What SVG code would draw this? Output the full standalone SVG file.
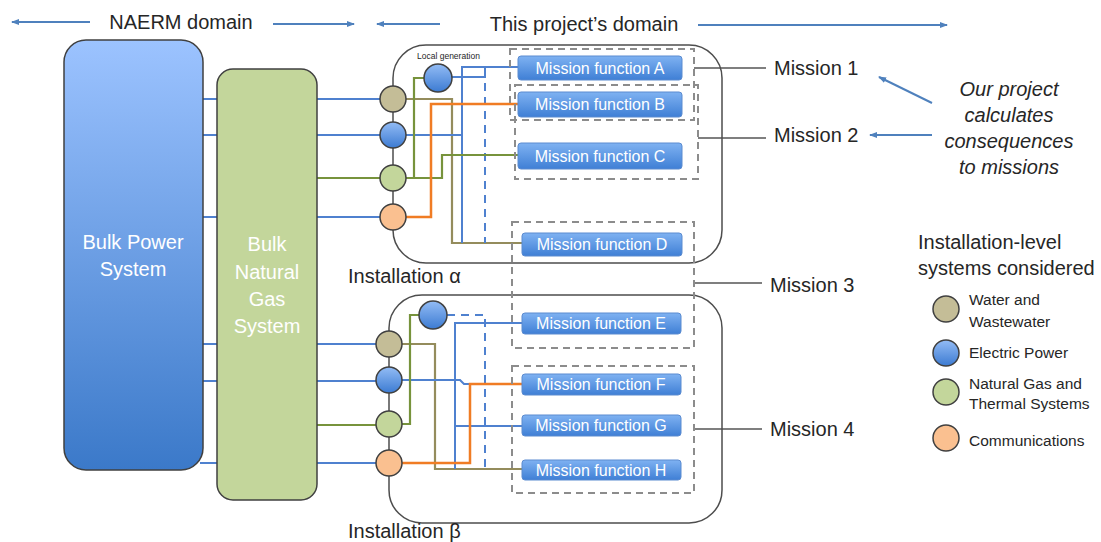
<svg xmlns="http://www.w3.org/2000/svg" width="1101" height="542" viewBox="0 0 1101 542">
<defs>
<linearGradient id="gPower" x1="0" y1="0" x2="0" y2="1"><stop offset="0" stop-color="#9cc3ff"/><stop offset="1" stop-color="#3b79c9"/></linearGradient>
<linearGradient id="gBlue" x1="0" y1="0" x2="0" y2="1"><stop offset="0" stop-color="#93bcf5"/><stop offset="1" stop-color="#3c7bd2"/></linearGradient>
<linearGradient id="gMf" x1="0" y1="0" x2="0" y2="1"><stop offset="0" stop-color="#7fb2f2"/><stop offset="1" stop-color="#3f7fd5"/></linearGradient>
<marker id="arr" markerWidth="8" markerHeight="8" refX="7" refY="4" orient="auto" markerUnits="userSpaceOnUse"><path d="M0,1 L8,4 L0,7 Z" fill="#4f81bd"/></marker>
</defs>
<style>
text{font-family:"Liberation Sans",Arial,sans-serif;fill:#262626}
.big{font-size:20px}
.wt{fill:#ffffff;font-size:20px}
.mf{fill:#ffffff;font-size:16px}
.leg{font-size:15.5px}
.ar{stroke:#4f81bd;stroke-width:2;fill:none;marker-end:url(#arr)}
.bl{stroke:#4f81cf;stroke-width:2;fill:none}
.gr{stroke:#77933c;stroke-width:2.2;fill:none}
.or{stroke:#f07c24;stroke-width:2.5;fill:none}
.tn{stroke:#948c5c;stroke-width:2.2;fill:none}
.dsh{stroke:#4f81cf;stroke-width:2;fill:none;stroke-dasharray:8 6}
.inst{fill:none;stroke:#4d4d4d;stroke-width:1.5}
.db{fill:none;stroke:#8c8c8c;stroke-width:2;stroke-dasharray:7 5}
.ml{stroke:#7f7f7f;stroke-width:2;fill:none}
.mfr{fill:url(#gMf);stroke:#5b8bd0;stroke-width:1}
.c{stroke:#404040;stroke-width:1.5}
.cT{fill:#c4bd97}.cB{fill:url(#gBlue)}.cG{fill:#c3d69b}.cO{fill:#fac090}
</style>

<g id="domain-arrows">
<path class="ar" d="M90 22 H12"/>
<path class="ar" d="M273 24 H354"/>
<path class="ar" d="M440 24 H377"/>
<path class="ar" d="M698 25 H947"/>
<text class="big" x="181" y="29" text-anchor="middle">NAERM domain</text>
<text class="big" x="584" y="31" text-anchor="middle" font-size="20.5">This project’s domain</text>
</g>

<g id="connectors">
<path class="bl" d="M200 99 H380"/>
<path class="bl" d="M200 135 H380"/>
<path class="gr" d="M317 178 H380"/>
<path class="bl" d="M200 217 H380"/>
<path class="bl" d="M200 344 H376"/>
<path class="bl" d="M200 381 H376"/>
<path class="gr" d="M317 425 H376"/>
<path class="bl" d="M200 463 H376"/>
<path class="tn" d="M406 99 H452 V243 H522"/>
<path class="bl" d="M406 135 H462"/>
<path class="bl" d="M462 243 V67 H518"/>
<path class="bl" d="M452 77 H485 V67"/>
<path class="dsh" d="M485 83 V243"/>
<path class="gr" d="M406 178 H442 V155 H518"/>
<path class="gr" d="M406 178 H414 V78 H424"/>
<path class="or" d="M406 217 H431 V104 H518"/>
<path class="tn" d="M402 344 H435 V469 H522"/>
<path class="bl" d="M402 380 H460 L464 384 H470"/>
<path class="bl" d="M455 469 V323 H522"/>
<path class="bl" d="M455 426 H522"/>
<path class="dsh" d="M447 315 H485 V470"/>
<path class="gr" d="M402 424 H410 V315 H419"/>
<path class="or" d="M402 463 H470 V384 H522"/>
<path class="ml" d="M694 68 H766"/>
<path class="ml" d="M698 138 H766"/>
<path class="ml" d="M694 283 H762"/>
<path class="ml" d="M694 429 H762"/>
<path class="ar" d="M932 103 L879 77"/>
<path class="ar" d="M932 135 H870"/>
</g>

<g id="bulk-power">
<rect x="64" y="40" width="139" height="430" rx="22" fill="url(#gPower)" stroke="#404040" stroke-width="1.5"/>
<text class="wt" x="133" y="249" text-anchor="middle">Bulk Power</text>
<text class="wt" x="133" y="276" text-anchor="middle">System</text>
</g>

<g id="bulk-gas">
<rect x="217" y="69" width="100" height="431" rx="16" fill="#c3d69b" stroke="#404040" stroke-width="1.5"/>
<text class="wt" x="267" y="251" text-anchor="middle">Bulk</text>
<text class="wt" x="267" y="279" text-anchor="middle">Natural</text>
<text class="wt" x="267" y="306" text-anchor="middle">Gas</text>
<text class="wt" x="267" y="333" text-anchor="middle">System</text>
</g>

<g id="installation-alpha">
<rect class="inst" x="393" y="45" width="329" height="218" rx="33"/>
<text class="big" x="348" y="283">Installation α</text>
<circle class="c cT" cx="393" cy="99" r="13"/>
<circle class="c cB" cx="393" cy="135" r="13"/>
<circle class="c cG" cx="393" cy="178" r="13"/>
<circle class="c cO" cx="393" cy="217" r="13"/>
<circle class="c cB" cx="438" cy="78" r="14" stroke-width="1"/>
<text x="417" y="59" font-size="8.5" fill="#404040">Local generation</text>
</g>

<g id="installation-beta">
<rect class="inst" x="389" y="295" width="333" height="228" rx="33"/>
<text class="big" x="348" y="538">Installation β</text>
<circle class="c cT" cx="389" cy="344" r="13"/>
<circle class="c cB" cx="389" cy="380" r="13"/>
<circle class="c cG" cx="389" cy="424" r="13"/>
<circle class="c cO" cx="389" cy="463" r="13"/>
<circle class="c cB" cx="433" cy="315" r="14" stroke-width="1"/>
</g>

<g id="mission-functions">
<rect class="mfr" x="518" y="56" width="164" height="24" rx="3"/><text class="mf" x="600" y="74" text-anchor="middle">Mission function A</text>
<rect class="mfr" x="518" y="92" width="164" height="25" rx="3"/><text class="mf" x="600" y="110" text-anchor="middle">Mission function B</text>
<rect class="mfr" x="518" y="143" width="164" height="26" rx="3"/><text class="mf" x="600" y="162" text-anchor="middle">Mission function C</text>
<rect class="mfr" x="522" y="233" width="160" height="23" rx="3"/><text class="mf" x="602" y="250" text-anchor="middle">Mission function D</text>
<rect class="mfr" x="522" y="313" width="159" height="21" rx="3"/><text class="mf" x="601" y="329" text-anchor="middle">Mission function E</text>
<rect class="mfr" x="522" y="374" width="159" height="21" rx="3"/><text class="mf" x="601" y="390" text-anchor="middle">Mission function F</text>
<rect class="mfr" x="522" y="415" width="159" height="21" rx="3"/><text class="mf" x="601" y="431" text-anchor="middle">Mission function G</text>
<rect class="mfr" x="522" y="460" width="159" height="20" rx="3"/><text class="mf" x="601" y="476" text-anchor="middle">Mission function H</text>
</g>

<g id="missions">
<rect class="db" x="510" y="49" width="184" height="71"/>
<rect class="db" x="515" y="85" width="183" height="94"/>
<rect class="db" x="512" y="222" width="182" height="126"/>
<rect class="db" x="512" y="366" width="182" height="127"/>
<text class="big" x="774" y="75">Mission 1</text>
<text class="big" x="774" y="142">Mission 2</text>
<text class="big" x="770" y="292">Mission 3</text>
<text class="big" x="770" y="436">Mission 4</text>
</g>

<g id="project-note">
<text class="big" x="1009" y="96" text-anchor="middle" font-style="italic" font-size="19.5">Our project</text>
<text class="big" x="1009" y="122" text-anchor="middle" font-style="italic" font-size="19.5">calculates</text>
<text class="big" x="1009" y="148" text-anchor="middle" font-style="italic" font-size="19.5">consequences</text>
<text class="big" x="1009" y="174" text-anchor="middle" font-style="italic" font-size="19.5">to missions</text>
</g>

<g id="legend">
<text class="big" x="918" y="249" font-size="20.5">Installation-level</text>
<text class="big" x="918" y="275" font-size="20.5">systems considered</text>
<circle class="c cT" cx="946" cy="309" r="13"/>
<circle class="c cB" cx="946" cy="353" r="13"/>
<circle class="c cG" cx="946" cy="392" r="13"/>
<circle class="c cO" cx="946" cy="438" r="13"/>
<text class="leg" x="969" y="305">Water and</text>
<text class="leg" x="969" y="327">Wastewater</text>
<text class="leg" x="969" y="358">Electric Power</text>
<text class="leg" x="969" y="389">Natural Gas and</text>
<text class="leg" x="969" y="409">Thermal Systems</text>
<text class="leg" x="969" y="446">Communications</text>
</g>
</svg>
